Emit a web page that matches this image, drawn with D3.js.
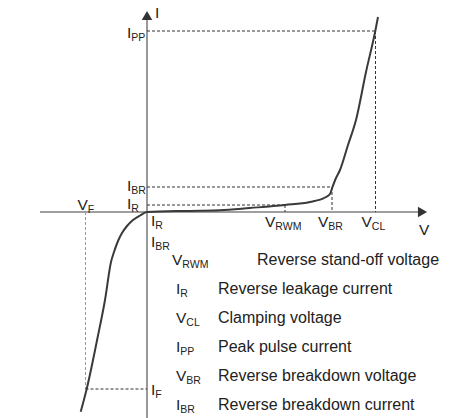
<!DOCTYPE html>
<html><head><meta charset="utf-8">
<script src="https://cdnjs.cloudflare.com/ajax/libs/d3/7.8.5/d3.min.js"></script>
<style>body{margin:0;background:#fff}svg{display:block}text{font-family:"Liberation Sans",Arial,sans-serif;fill:#222}</style>
</head><body>
<script>
// Characteristic curve (V, I) in arbitrary units
const curveV = [-6.63,-6.03,-4.95,-4.2,-3.6,-3.3,-2.9,-2.5,-2.0,-1.4,-0.7,0,3.3,5.3,7.3,10.3,13.8,16.3,17.8,18.3,18.55,18.9,19.3,20.1,20.9,21.9,22.83,23.1];
const curveI = [-19.97,-17.7,-12.6,-8.8,-5.0,-4.0,-2.9,-2.1,-1.4,-0.8,-0.35,0,0.1,0.12,0.17,0.4,0.7,1.0,1.45,1.8,2.5,3.4,4.2,6.7,9.2,14.0,18.1,19.5];
// Key voltages and currents
const voltNames = ["VF","VRWM","VBR","VCL"];
const voltValues = [-6.15,13.8,18.5,22.85];
const currNames = ["IPP","IBR","IR","IF"];
const currValues = [18.1,2.5,0.7,-17.7];
// Legend
const legendMain = ["V","I","V","I","V","I"];
const legendSub = ["RWM","R","CL","PP","BR","BR"];
const legendText = ["Reverse stand-off voltage","Reverse leakage current","Clamping voltage","Peak pulse current","Reverse breakdown voltage","Reverse breakdown current"];

const W=451,H=418;
const svg=d3.select("body").append("svg").attr("width",W).attr("height",H);
const x=d3.scaleLinear().domain([-10.7,28.1]).range([40,428]);
const y=d3.scaleLinear().domain([-20.6,20.1]).range([418,11]);
const vOf=n=>voltValues[voltNames.indexOf(n)], iOf=n=>currValues[currNames.indexOf(n)];

const axisCol="#7f7f7f";
// axes
svg.append("line").attr("x1",x(-10.7)).attr("x2",x(27.2)).attr("y1",y(0)).attr("y2",y(0)).attr("stroke",axisCol).attr("stroke-width",1.6);
svg.append("line").attr("x1",x(0)).attr("x2",x(0)).attr("y1",y(19.3)).attr("y2",y(-20.6)).attr("stroke",axisCol).attr("stroke-width",1.6);
// arrow heads
const tri=d3.symbol().type(d3.symbolTriangle).size(48);
svg.append("path").attr("d",tri()).attr("fill","#333")
  .attr("transform",`translate(${x(27.4)},${y(0)}) rotate(90)`);
svg.append("path").attr("d",tri()).attr("fill","#333")
  .attr("transform",`translate(${x(0)},${y(19.5)})`);

// dashed guides
const dash=(x1,y1,x2,y2,col)=>svg.append("line").attr("x1",x1).attr("y1",y1).attr("x2",x2).attr("y2",y2)
  .attr("stroke",col||"#333").attr("stroke-width",1).attr("stroke-dasharray","3,2");
dash(x(0),y(iOf("IPP")),x(vOf("VCL")),y(iOf("IPP")));
dash(x(vOf("VCL")),y(iOf("IPP")),x(vOf("VCL")),y(0));
dash(x(0),y(iOf("IBR")),x(vOf("VBR")),y(iOf("IBR")));
dash(x(vOf("VBR")),y(iOf("IBR")),x(vOf("VBR")),y(0));
dash(x(0),y(iOf("IR")),x(vOf("VRWM")),y(iOf("IR")));
dash(x(vOf("VRWM")),y(iOf("IR")),x(vOf("VRWM")),y(0));
dash(x(vOf("VF")),y(0),x(vOf("VF")),y(iOf("IF")),"#999");
dash(x(vOf("VF")),y(iOf("IF")),x(0),y(iOf("IF")));

// curve
const pts=curveV.map((v,i)=>[v,curveI[i]]);
svg.append("path").attr("d",d3.line().x(d=>x(d[0])).y(d=>y(d[1])).curve(d3.curveMonotoneX)(pts))
  .attr("fill","none").attr("stroke","#3a3a3a").attr("stroke-width",2);

// labels
const fs=15.5, sfs=10.5, lfs=16;
function label(px,py,main,sub,size,subsize){
  const t=svg.append("text").attr("x",px).attr("y",py).attr("font-size",size||fs);
  t.append("tspan").text(main);
  if(sub) t.append("tspan").attr("dy",3).attr("font-size",subsize||sfs).text(sub);
  return t;
}
label(x(0)+8,18,"I");
label(419,235,"V");
label(127,38,"I","PP");
label(127,191,"I","BR");
label(127,209,"I","R");
label(151,226,"I","R");
label(151,247,"I","BR");
label(x(vOf("VF"))-8,210,"V","F");
label(x(vOf("VRWM"))-20,227,"V","RWM");
label(x(vOf("VBR"))-14,227,"V","BR");
label(x(vOf("VCL"))-14,227,"V","CL");
label(151,395,"I","F");

legendMain.forEach((m,i)=>{
  const by=265+29*i;
  label(i===0?172:176,by,m,legendSub[i]);
  svg.append("text").attr("x",i===0?257:218).attr("y",by).attr("font-size",lfs).text(legendText[i]);
});
</script>
</body></html>
